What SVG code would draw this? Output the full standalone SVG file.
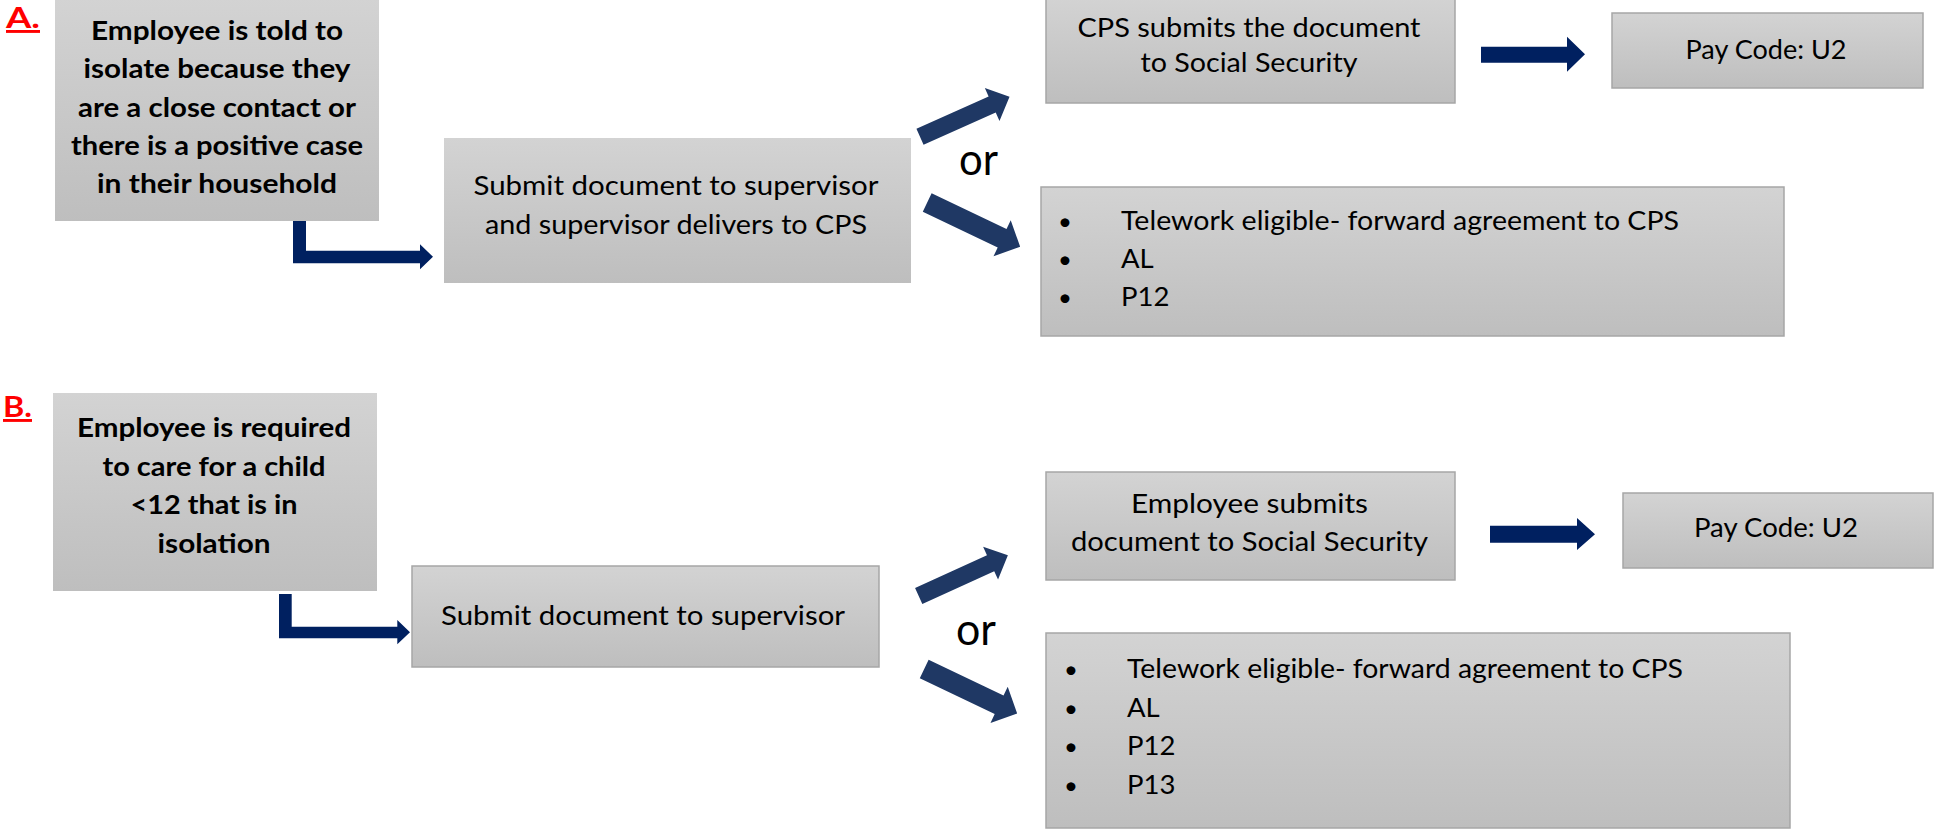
<svg xmlns="http://www.w3.org/2000/svg" width="1935" height="829" viewBox="0 0 1935 829">
<defs>
<linearGradient id="g" x1="0" y1="0" x2="0" y2="1">
<stop offset="0" stop-color="#d3d3d3"/>
<stop offset="1" stop-color="#bebebe"/>
</linearGradient>
<style>
.box{fill:url(#g);}
.ob{fill:url(#g);stroke:#a6a6a6;stroke-width:1.5;}
text{font-family:Lato,"Liberation Sans",sans-serif;fill:#000;}
.b{font-weight:bold;font-size:26px;text-anchor:middle;}
.r{font-size:27.5px;text-anchor:middle;}
.l{font-size:27.5px;}
.bu{font-size:24px;text-anchor:middle;}
.lab{font-weight:bold;font-size:29px;fill:#ff0000;text-decoration:underline;}
.or{font-size:44px;}
.ca{fill:#002060;}
.da{fill:#1f3864;}
</style>
</defs>
<rect width="1935" height="829" fill="#ffffff"/>

<text id="labelA" class="lab" x="6" y="28" textLength="34" lengthAdjust="spacingAndGlyphs">A.</text>
<text id="labelB" class="lab" x="3" y="417" textLength="29" lengthAdjust="spacingAndGlyphs">B.</text>

<g id="nodeA1">
<rect class="box" x="55" y="-2" width="324" height="223"/>
<text class="b" x="217" y="40" textLength="252" lengthAdjust="spacingAndGlyphs">Employee is told to</text>
<text class="b" x="217" y="78.3" textLength="267" lengthAdjust="spacingAndGlyphs">isolate because they</text>
<text class="b" x="217" y="116.5" textLength="278" lengthAdjust="spacingAndGlyphs">are a close contact or</text>
<text class="b" x="217" y="154.8" textLength="292" lengthAdjust="spacingAndGlyphs">there is a positive case</text>
<text class="b" x="217" y="193" textLength="240" lengthAdjust="spacingAndGlyphs">in their household</text>
</g>

<g id="nodeA2">
<rect class="box" x="444" y="138" width="467" height="145"/>
<text class="r" x="676" y="195" textLength="405" lengthAdjust="spacingAndGlyphs">Submit document to supervisor</text>
<text class="r" x="676" y="234" textLength="382" lengthAdjust="spacingAndGlyphs">and supervisor delivers to CPS</text>
</g>

<g id="nodeA3">
<rect class="ob" x="1046" y="-2" width="409" height="105"/>
<text class="r" x="1249" y="37" textLength="343" lengthAdjust="spacingAndGlyphs">CPS submits the document</text>
<text class="r" x="1249" y="72" textLength="217" lengthAdjust="spacingAndGlyphs">to Social Security</text>
</g>

<g id="nodeA4">
<rect class="ob" x="1612" y="13" width="311" height="75"/>
<text class="r" x="1766" y="59" textLength="161" lengthAdjust="spacingAndGlyphs">Pay Code: U2</text>
</g>

<g id="nodeA5">
<rect class="ob" x="1041" y="187" width="743" height="149"/>
<text class="bu" x="1065" y="229.5">•</text>
<text class="bu" x="1065" y="267.5">•</text>
<text class="bu" x="1065" y="305.5">•</text>
<text class="l" x="1121" y="229.5" textLength="558" lengthAdjust="spacingAndGlyphs">Telework eligible- forward agreement to CPS</text>
<text class="l" x="1121" y="267.5">AL</text>
<text class="l" x="1121" y="305.5">P12</text>
</g>

<text id="orA" class="or" x="959" y="175" textLength="39" lengthAdjust="spacingAndGlyphs">or</text>

<g id="nodeB1">
<rect class="box" x="53" y="393" width="324" height="198"/>
<text class="b" x="214" y="437" textLength="274" lengthAdjust="spacingAndGlyphs">Employee is required</text>
<text class="b" x="214" y="475.7" textLength="223" lengthAdjust="spacingAndGlyphs">to care for a child</text>
<text class="b" x="214" y="514.3" textLength="167" lengthAdjust="spacingAndGlyphs">&lt;12 that is in</text>
<text class="b" x="214" y="553" textLength="113" lengthAdjust="spacingAndGlyphs">isolation</text>
</g>

<g id="nodeB2">
<rect class="ob" x="412" y="566" width="467" height="101"/>
<text class="r" x="643" y="625" textLength="404" lengthAdjust="spacingAndGlyphs">Submit document to supervisor</text>
</g>

<g id="nodeB3">
<rect class="ob" x="1046" y="472" width="409" height="108"/>
<text class="r" x="1249.5" y="513" textLength="237" lengthAdjust="spacingAndGlyphs">Employee submits</text>
<text class="r" x="1249.5" y="551" textLength="357" lengthAdjust="spacingAndGlyphs">document to Social Security</text>
</g>

<g id="nodeB4">
<rect class="ob" x="1623" y="493" width="310" height="75"/>
<text class="r" x="1776" y="537" textLength="164" lengthAdjust="spacingAndGlyphs">Pay Code: U2</text>
</g>

<g id="nodeB5">
<rect class="ob" x="1046" y="633" width="744" height="195"/>
<text class="bu" x="1071" y="678">•</text>
<text class="bu" x="1071" y="716.5">•</text>
<text class="bu" x="1071" y="755">•</text>
<text class="bu" x="1071" y="793.5">•</text>
<text class="l" x="1127" y="678" textLength="556" lengthAdjust="spacingAndGlyphs">Telework eligible- forward agreement to CPS</text>
<text class="l" x="1127" y="716.5">AL</text>
<text class="l" x="1127" y="755">P12</text>
<text class="l" x="1127" y="793.5">P13</text>
</g>

<text id="orB" class="or" x="956" y="645" textLength="40" lengthAdjust="spacingAndGlyphs">or</text>

<g id="connectors">
<polygon class="ca" points="293,221 306,221 306,250.7 420,250.7 420,244.3 433,256.8 420,269.3 420,263.3 293,263.3"/>
<polygon class="ca" points="279,594 291.7,594 291.7,626.7 397.3,626.7 397.3,620 410,632.2 397.3,644.3 397.3,638.3 279,638.3"/>
<polygon class="ca" points="1481,46.7 1567,46.7 1567,36.7 1585,54.2 1567,71.7 1567,62.7 1481,62.7"/>
<polygon class="ca" points="1490,525.7 1577,525.7 1577,518 1595,534.2 1577,550 1577,542.7 1490,542.7"/>
<polygon class="da" transform="translate(920,136.7) rotate(-24)" points="0,-8.75 79,-8.75 79,-18 98,0 79,18 79,8.75 0,8.75"/>
<polygon class="da" transform="translate(927.2,202.5) rotate(25.5)" points="0,-10.25 83,-10.25 83,-20 103,0 83,20 83,10.25 0,10.25"/>
<polygon class="da" transform="translate(918.7,596) rotate(-24.5)" points="0,-8.75 79,-8.75 79,-18 98,0 79,18 79,8.75 0,8.75"/>
<polygon class="da" transform="translate(924.2,669.1) rotate(25.5)" points="0,-10.25 83,-10.25 83,-20 103,0 83,20 83,10.25 0,10.25"/>
</g>
</svg>
